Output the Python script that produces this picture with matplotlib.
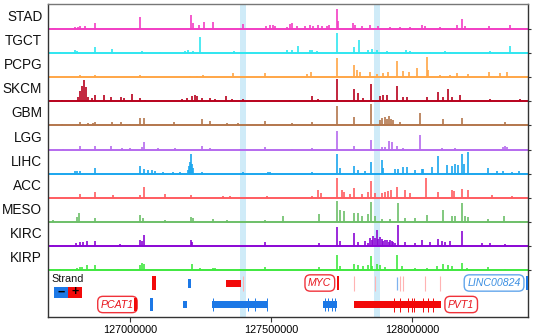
import matplotlib
matplotlib.use("Agg")
import matplotlib.pyplot as plt
from matplotlib.patches import Rectangle
import matplotlib.transforms as mtrans

plt.rcParams['font.family'] = ['Liberation Sans', 'DejaVu Sans']

# ---------------- data (positions in Mb, signal heights) ----------------
track_names = ['STAD', 'TGCT', 'PCPG', 'SKCM', 'GBM', 'LGG', 'LIHC', 'ACC', 'MESO', 'KIRC', 'KIRP']
track_colors = ['#F23DC4', '#2FE6F0', '#FFA646', '#B8001C', '#B3764C', '#B56AEE',
                '#1AA6EE', '#FF5C60', '#6CBF68', '#8A06D4', '#3FE83F']

stad = [(126.727,1.5),(126.734,1),(126.805,2),(126.816,2.5),(126.823,3),(126.840,3),(126.876,6),
        (127.035,12),(127.216,14),(127.223,6),(127.245,4),(127.262,7),(127.294,7),(127.401,5),
        (127.482,3),(127.496,4),(127.507,4),(127.514,3),(127.557,2),(127.567,5),(127.574,6),
        (127.592,3),(127.621,3),(127.638,4),(127.649,3),(127.667,4),(127.681,3),(127.699,3),
        (127.706,4),(127.734,20),(127.738,8),(127.791,6),(127.798,4),(127.823,3),(127.851,4),
        (127.879,3),(127.922,2),(127.957,2),(127.993,2),(128.035,4),(128.046,3),(128.099,2),
        (128.160,4),(128.177,10),(128.188,3),(128.273,3),(128.348,4)]
tgct = [(126.752,1),(126.805,3),(126.812,2),(126.876,6),(126.936,4),(127.043,2),(127.106,1),
        (127.195,2),(127.206,3),(127.223,2),(127.248,16),(127.369,2),(127.557,3),(127.574,3),
        (127.596,7),(127.638,3),(127.645,3),(127.663,2),(127.734,20),(127.794,6),(127.812,13),
        (127.844,3),(127.858,4),(127.876,3),(127.911,2),(127.979,3),(127.993,2),(128.064,1.5),
        (128.117,2),(128.135,1.5),(128.277,2),(128.348,7)]
pcpg = [(126.823,2),(126.876,2),(127.035,2),(127.213,1),(127.238,1),(127.259,2),(127.365,4),
        (127.479,4),(127.628,3),(127.642,5),(127.734,19),(127.794,12),(127.805,7),(127.816,5),
        (127.851,5),(127.876,3),(127.897,4),(127.915,5),(127.947,16),(127.968,6),(127.989,5),
        (128.018,9),(128.053,20),(128.057,7),(128.099,2),(128.135,2),(128.160,4),(128.199,3),
        (128.273,5),(128.312,4),(128.337,5)]
skcm = [(126.759,1),(126.816,4),(126.823,10),(126.830,15),(126.837,21),(126.844,14),(126.851,4),
        (126.865,3),(126.876,6),(126.908,6),(126.933,4),(126.968,4),(126.979,3),(127.007,7),
        (127.035,3),(127.053,1),(127.184,2),(127.202,3),(127.220,5),(127.230,6),(127.238,5),
        (127.255,3),(127.284,3),(127.301,2),(127.340,5),(127.362,2),(127.401,2),(127.567,1),
        (127.645,5),(127.667,2),(127.734,22),(127.794,12),(127.809,8),(127.826,3),(127.855,17),
        (127.887,5),(127.897,6),(127.911,6),(127.947,15),(127.968,4),(127.982,4),(128.053,4),
        (128.092,9),(128.110,4),(128.128,12),(128.142,4),(128.170,6),(128.277,2),(128.383,2)]
gbm = [(126.759,1),(126.823,3),(126.851,2),(126.869,2),(126.876,3),(126.936,3),(126.968,3),
       (127.000,1),(127.035,7),(127.050,7),(127.156,3),(127.255,6),(127.284,4),(127.344,2),
       (127.383,2),(127.479,4),(127.574,2),(127.645,3),(127.734,19),(127.794,8),(127.855,21),
       (127.887,5),(127.894,7),(127.904,8),(127.911,6),(127.918,9),(127.926,6),(127.933,5),
       (127.957,3),(128.028,12),(128.110,6),(128.177,7),(128.330,3)]
lgg = [(126.762,1),(126.823,4),(126.876,4),(126.933,4),(126.972,2),(127.000,2),(127.043,3),
       (127.050,8),(127.099,2),(127.160,2),(127.255,4),(127.284,2),(127.390,1),(127.479,3),
       (127.574,1),(127.645,2),(127.734,19),(127.794,4),(127.855,10),(127.894,3),(127.904,3),
       (127.918,9),(127.929,8),(127.947,4),(127.968,2),(128.028,15),(128.106,2),(128.152,2),
       (128.323,3),(128.330,4),(128.337,3)]
lihc = [(126.805,3),(126.812,3),(126.823,3),(126.876,6),(127.035,8),(127.050,5),(127.064,4),
        (127.078,4),(127.089,3),(127.117,2),(127.152,2),(127.177,2),(127.206,4),(127.209,8),
        (127.213,12),(127.216,20),(127.220,10),(127.223,6),(127.255,2),(127.401,2),(127.489,2),
        (127.496,2),(127.645,2),(127.734,20),(127.745,6),(127.794,8),(127.809,4),(127.833,3),
        (127.855,12),(127.894,14),(127.897,6),(127.940,5),(127.950,5),(127.968,7),(127.982,7),
        (128.011,4),(128.035,5),(128.039,5),(128.071,7),(128.092,18),(128.124,9),(128.142,8),
        (128.152,10),(128.163,9),(128.177,20),(128.184,10),(128.199,22),(128.270,6),(128.301,3),
        (128.323,3),(128.355,2),(128.379,3)]
acc = [(126.823,4),(126.876,6),(126.940,3),(127.035,3),(127.050,11),(127.124,4),(127.216,3),
       (127.330,2),(127.355,2),(127.486,2),(127.645,2),(127.667,8),(127.677,5),(127.734,20),
       (127.752,8),(127.759,6),(127.780,4),(127.794,10),(127.823,4),(127.844,6),(127.855,17),
       (127.869,5),(127.894,5),(127.904,6),(127.915,7),(127.926,8),(127.947,11),(127.975,8),
       (127.993,5),(128.050,20),(128.092,6),(128.142,8),(128.149,7),(128.177,9),(128.199,8),
       (128.284,3),(128.355,2)]
meso = [(126.727,2),(126.812,5),(126.819,9),(126.876,4),(127.035,7),(127.046,4),(127.124,2),
        (127.216,5),(127.223,4),(127.294,3),(127.344,2),(127.479,2),(127.543,6),(127.670,8),
        (127.734,21),(127.745,12),(127.759,11),(127.794,9),(127.809,9),(127.823,6),(127.844,8),
        (127.855,20),(127.869,6),(127.894,3),(127.922,3),(127.950,19),(127.975,4),(128.011,4),
        (128.053,7),(128.110,12),(128.142,6),(128.152,6),(128.177,19),(128.188,6),(128.199,5),
        (128.270,3),(128.326,6),(128.383,1)]
kirc = [(126.727,1),(126.809,3),(126.823,4),(126.833,4),(126.848,5),(126.876,5),(126.965,1.5),
        (127.035,6),(127.043,5),(127.050,11),(127.216,6),(127.220,4),(127.479,4),(127.670,3),
        (127.734,19),(127.745,5),(127.794,13),(127.809,4),(127.833,5),(127.844,3),(127.851,8),
        (127.858,6),(127.862,10),(127.869,8),(127.876,16),(127.879,7),(127.887,9),(127.894,7),
        (127.897,5),(127.904,6),(127.911,6),(127.918,4),(127.922,6),(127.929,5),(127.933,4),
        (127.940,3),(127.950,21),(127.975,4),(128.011,3),(128.035,6),(128.064,4),(128.092,7),
        (128.106,5),(128.117,4),(128.135,5),(128.177,15),(128.248,3),(128.277,3),(128.330,2)]
kirp = [(126.752,1),(126.812,2),(126.823,3),(126.830,3),(126.848,5),(126.876,5),(126.957,1),
        (127.035,5),(127.043,7),(127.050,6),(127.220,6),(127.248,2),(127.294,2),(127.301,2),
        (127.390,1),(127.479,3),(127.670,3),(127.734,15),(127.745,4),(127.794,6),(127.809,5),
        (127.826,4),(127.844,5),(127.855,14),(127.858,4),(127.876,6),(127.887,5),(127.904,3),
        (127.947,15),(127.965,4),(128.011,2),(128.053,2),(128.089,4),(128.110,6),(128.128,5),
        (128.142,4),(128.177,7),(128.195,2),(128.270,3),(128.330,1)]
track_data = [stad, tgct, pcpg, skcm, gbm, lgg, lihc, acc, meso, kirc, kirp]

# highlighted regions (Mb)
highlights = [(127.390, 127.411), (127.865, 127.887)]

# labelled genes: name, strand, start, end (Mb), row
gene_names = ['PCAT1', 'MYC', 'PVT1', 'LINC00824']
gene_strands = ['+', '+', '+', '-']
gene_starts = [127.014, 127.734, 127.794, 128.405]
gene_ends = [127.025, 127.741, 128.103, 128.440]
gene_rows = [2, 1, 2, 1]
gene_label_side = ['left', 'left', 'right', 'left']

# other transcript blocks: start, end, strand, row, kind
blocks = [(127.078, 127.092, '+', 1, 'tall'), (127.206, 127.216, '-', 1, 'mid'),
          (127.340, 127.394, '+', 1, 'exon'), (127.071, 127.082, '-', 2, 'tall'),
          (127.188, 127.202, '-', 2, 'exon'), (127.291, 127.486, '-', 2, 'exon'),
          (127.684, 127.734, '-', 2, 'exon')]
# thin exon marks: position, strand, row
marks_faint = [127.401, 127.794, 127.869, 127.957, 127.968, 128.046, 128.099]
marks_row1_minus = [127.947]
marks_row2_minus = [127.294, 127.418, 127.443, 127.486, 127.691, 127.702, 127.716, 127.727]
marks_row2_plus = [127.936, 127.957, 127.986, 128.000, 128.007, 128.039, 128.057, 128.074]

xticks = [127000000, 127500000, 128000000]
xlim = (126.709e6, 128.411e6)

# ---------------- drawing ----------------
W, H = 537, 336
fig = plt.figure(figsize=(W / 100, H / 100), dpi=100)
ax = fig.add_axes([48 / W, 19 / H, 480 / W, 313 / H])
ax.set_xlim(*xlim)
ax.set_ylim(0, 313)

top_base = 288.0
spacing = 24.1
baselines = [top_base - spacing * k for k in range(len(track_names))]

for a, b in highlights:
    ax.axvspan(a * 1e6, b * 1e6, color='#CFEBF8', zorder=0, lw=0)

label_tr = mtrans.blended_transform_factory(ax.transAxes, ax.transData)
for name, col, data, base in zip(track_names, track_colors, track_data, baselines):
    xs = [p * 1e6 for p, _ in data]
    hs = [base + h for _, h in data]
    ax.vlines(xs, base, hs, color=col, lw=1.2, zorder=2)
    ax.hlines(base, xlim[0], xlim[1], color=col, lw=1.4, zorder=2)
    ax.text(-0.012, base + 12, name, transform=label_tr, ha='right', va='center',
            fontsize=9.8, color='#111111')

BLUE = '#1C78E6'
RED = '#F20A0A'
row_y = {1: 34.0, 2: 12.5}
kind_h = {'tall': 13.5, 'mid': 9, 'exon': 7}
px = (xlim[1] - xlim[0]) / 480.0

def scol(s):
    return RED if s == '+' else BLUE

for s, e, strand, row, kind in blocks:
    h = kind_h[kind]
    w = max((e - s) * 1e6, 1.5 * px)
    ax.add_patch(Rectangle((s * 1e6, row_y[row] - h / 2), w, h, facecolor=scol(strand),
                           edgecolor='none', zorder=3))

ax.vlines([m * 1e6 for m in marks_faint], row_y[1] - 7.5, row_y[1] + 7.5, color='#FFB3B3', lw=0.8, zorder=3)
ax.vlines([m * 1e6 for m in marks_row1_minus], row_y[1] - 6.5, row_y[1] + 6.5, color='#7FB2EE', lw=0.9, zorder=3)
ax.vlines([m * 1e6 for m in marks_row2_minus], row_y[2] - 6.5, row_y[2] + 6.5, color=BLUE, lw=0.7, zorder=3)
ax.vlines([m * 1e6 for m in marks_row2_plus], row_y[2] - 7, row_y[2] + 7, color=RED, lw=0.7, zorder=3)

for name, strand, s, e, row, side in zip(gene_names, gene_strands, gene_starts, gene_ends,
                                         gene_rows, gene_label_side):
    col = scol(strand)
    h = 13.5 if row == 1 or name == 'PCAT1' else 7
    w = max((e - s) * 1e6, 1.5 * px)
    ax.add_patch(Rectangle((s * 1e6, row_y[row] - h / 2), w, h, facecolor=col,
                           edgecolor='none', zorder=3))
    tcol = '#E8141C' if strand == '+' else '#3C8FE2'
    ecol = '#F0323A' if strand == '+' else '#62A6EC'
    if side == 'left':
        xy, off, ha = (s * 1e6, row_y[row]), (-4 if name != 'PCAT1' else 0, 0), 'right'
    else:
        xy, off, ha = (e * 1e6, row_y[row]), (5, 0), 'left'
    ax.annotate(name, xy=xy, xytext=off, textcoords='offset points', ha=ha, va='center',
                fontsize=7.6, style='italic', color=tcol, zorder=2.5 if name == 'PCAT1' else 5,
                bbox=dict(boxstyle='round,pad=0.3,rounding_size=0.5', fc='white', ec=ecol, lw=1.0))

# strand legend
ax.text(0.008, 0.121, 'Strand', transform=ax.transAxes, fontsize=7.8, ha='left', va='center', color='#111111')
ax.add_patch(Rectangle((0.0125, 0.061), 0.029, 0.035, transform=ax.transAxes, facecolor=BLUE, edgecolor='none', zorder=4))
ax.add_patch(Rectangle((0.0415, 0.061), 0.029, 0.035, transform=ax.transAxes, facecolor=RED, edgecolor='none', zorder=4))
ax.text(0.027, 0.079, '\u2212', transform=ax.transAxes, fontsize=9, fontweight='bold', ha='center', va='center', color='black', zorder=5)
ax.text(0.056, 0.079, '+', transform=ax.transAxes, fontsize=9, fontweight='bold', ha='center', va='center', color='black', zorder=5)

# axes styling
ax.set_xticks(xticks)
ax.set_xticklabels([str(t) for t in xticks], fontsize=7.8)
ax.tick_params(axis='x', length=3.5, width=0.8, color='#333333', pad=2)
ax.yaxis.tick_right()
ax.set_yticks(baselines)
ax.set_yticklabels([])
ax.tick_params(axis='y', length=2, width=0.8, color='#333333')
for sp in ax.spines.values():
    sp.set_color('#333333')
    sp.set_linewidth(1.0)
ax.spines['top'].set_color('#777777')

fig.savefig('out.png', dpi=100)
